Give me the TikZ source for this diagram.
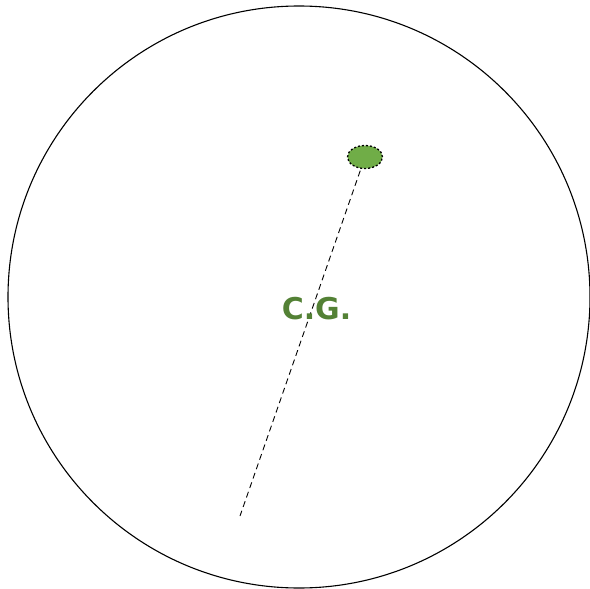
\documentclass[tikz,border=0pt]{standalone}
\usepackage{fontspec}
\setmainfont{DejaVu Sans}
\usetikzlibrary{shapes.geometric}
\definecolor{cggreen}{HTML}{538135}
\definecolor{dotgreen}{HTML}{70AD47}

\begin{document}
\begin{tikzpicture}[x=1pt,y=-1pt,line join=round]
  \useasboundingbox (0,0) rectangle (590,589);
  \draw[line width=1.1pt] (299,297) circle (291);
  \node[ellipse,draw,line width=1.3pt,dash pattern=on 2pt off 2pt,fill=dotgreen,
    minimum width=35pt,minimum height=23pt,inner sep=0pt] (cg) at (365,157) {};
  \coordinate (foot) at (240,516);
  \draw[line width=0.9pt,dash pattern=on 6pt off 4pt,shorten <=2pt] (cg) -- (foot);
  \node[anchor=base,text=cggreen,font=\bfseries\fontsize{30}{30}\selectfont] (lbl) at (316.5,319) {C.G.};
\end{tikzpicture}
\end{document}
